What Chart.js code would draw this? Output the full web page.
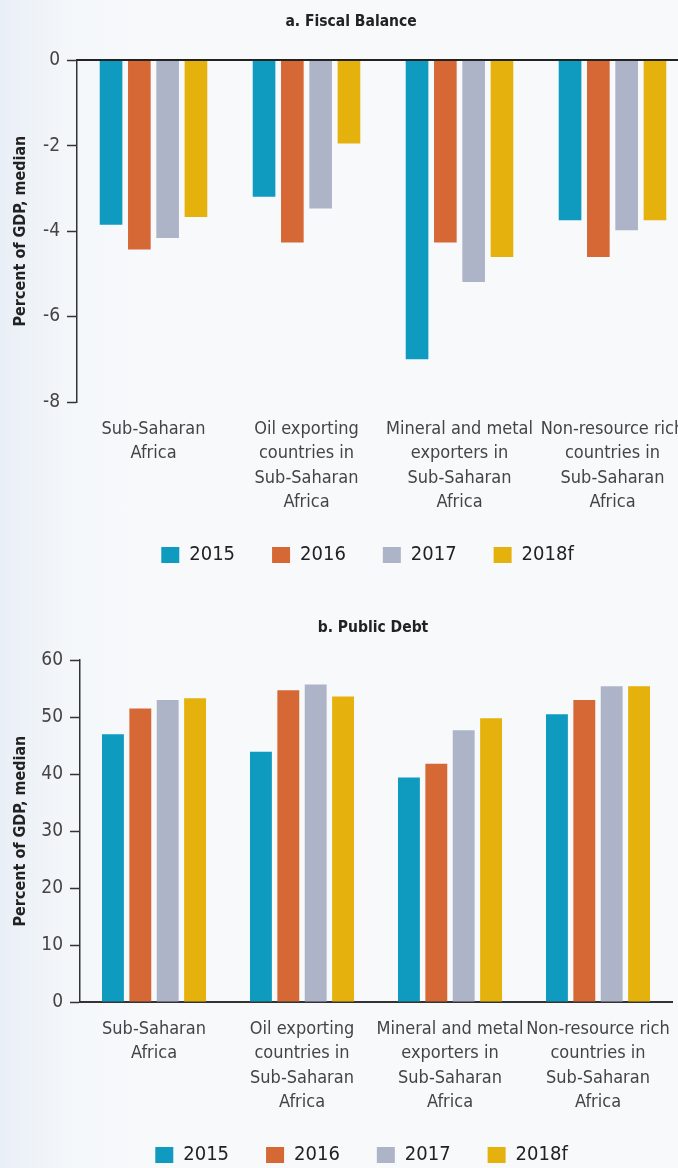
<!DOCTYPE html>
<html>
<head>
<meta charset="utf-8">
<script src="https://cdn.jsdelivr.net/npm/chart.js@4.4.1/dist/chart.umd.min.js"></script>
<style>
  html, body { margin: 0; padding: 0; }
  body {
    width: 678px; height: 1168px; overflow: hidden; position: relative;
    background: linear-gradient(to right, #e9eff6 0px, #f4f7fa 70px, #f7f9fb 140px, #f7f9fb 100%);
  }
  canvas { position: absolute; left: 0; }
  #fiscal { top: 0; }
  #debt { top: 600px; }
</style>
</head>
<body>
<canvas id="fiscal" width="744" height="590"></canvas>
<canvas id="debt" width="732" height="590"></canvas>
<script>
const categories = [
  ['Sub-Saharan', 'Africa'],
  ['Oil exporting', 'countries in', 'Sub-Saharan', 'Africa'],
  ['Mineral and metal', 'exporters in', 'Sub-Saharan', 'Africa'],
  ['Non-resource rich', 'countries in', 'Sub-Saharan', 'Africa']
];
const years = ['2015', '2016', '2017', '2018f'];
const colors = ['#0f9ac0', '#d66836', '#aeb4c7', '#e5b10c'];

// a. Fiscal Balance (percent of GDP, median)
const fiscal2015 = [-3.85, -3.2, -7.0, -3.75];
const fiscal2016 = [-4.43, -4.27, -4.27, -4.61];
const fiscal2017 = [-4.16, -3.47, -5.19, -3.98];
const fiscal2018f = [-3.67, -1.95, -4.61, -3.75];

// b. Public Debt (percent of GDP, median)
const debt2015 = [47.0, 43.9, 39.4, 50.5];
const debt2016 = [51.5, 54.7, 41.8, 53.0];
const debt2017 = [53.0, 55.7, 47.7, 55.4];
const debt2018f = [53.3, 53.6, 49.8, 55.4];

const FONT = "'DejaVu Sans Condensed', 'Liberation Sans Narrow', sans-serif";

Chart.defaults.font.family = FONT;
Chart.defaults.color = '#333';

// zero line drawn over the bars, like the original
const zeroLine = {
  id: 'zeroLine',
  afterDatasetsDraw(chart) {
    const {ctx, chartArea, scales} = chart;
    const y = scales.y.getPixelForValue(0);
    ctx.save();
    ctx.strokeStyle = '#222';
    ctx.lineWidth = 2;
    ctx.beginPath();
    ctx.moveTo(chartArea.left, y);
    ctx.lineTo(chartArea.right, y);
    ctx.stroke();
    ctx.restore();
  }
};

function makeDatasets(series) {
  return series.map((vals, i) => ({
    label: years[i],
    data: vals,
    backgroundColor: colors[i],
    borderWidth: 0,
    categoryPercentage: 0.74,
    barPercentage: 0.8
  }));
}

function legendLabels(chart) {
  // pad the text a bit so items sit further apart than the vertical padding
  return Chart.defaults.plugins.legend.labels.generateLabels(chart)
    .map(item => Object.assign(item, { text: item.text + '\u2002' }));
}

function makeOptions(o) {
  return {
    responsive: false,
    animation: false,
    devicePixelRatio: 1,
    layout: { padding: { left: 0, right: 0, top: 0, bottom: 15 } },
    plugins: {
      title: {
        display: true,
        text: o.title,
        color: '#222',
        font: { size: 15.5, weight: 'bold' },
        padding: { top: o.titleTop, bottom: o.titleBottom }
      },
      legend: {
        position: 'bottom',
        labels: {
          boxWidth: 18,
          boxHeight: 16,
          padding: 28,
          color: '#222',
          font: { size: 20 },
          generateLabels: legendLabels
        }
      },
      tooltip: { enabled: false }
    },
    scales: {
      x: {
        grid: { display: false, drawTicks: false },
        border: { display: o.xBorder, color: '#333', width: 2 },
        ticks: {
          color: '#444',
          padding: 15,
          font: { size: 18, lineHeight: 1.36 },
          maxRotation: 0,
          autoSkip: false
        },
        afterFit: s => { s.height = 115; }
      },
      y: {
        min: o.min,
        max: o.max,
        grid: {
          drawOnChartArea: false,
          tickLength: 10,
          tickColor: '#333',
          tickWidth: 1.5
        },
        border: { display: true, color: '#333', width: 1.5 },
        ticks: {
          stepSize: o.step,
          color: '#444',
          padding: 7,
          font: { size: 19 }
        },
        title: {
          display: true,
          text: 'Percent of GDP, median',
          color: '#222',
          font: { size: 16, weight: 'bold' },
          padding: { top: 11, bottom: 0 }
        },
        afterFit: s => { s.width = o.yWidth; }
      },
      yr: {
        position: 'right',
        grid: { display: false, drawTicks: false },
        border: { display: false },
        ticks: { display: false },
        afterFit: s => { s.width = o.rightGap; }
      }
    }
  };
}

new Chart(document.getElementById('fiscal'), {
  type: 'bar',
  data: {
    labels: categories,
    datasets: makeDatasets([fiscal2015, fiscal2016, fiscal2017, fiscal2018f])
  },
  options: makeOptions({
    title: 'a. Fiscal Balance\u2003\u2003\u2003', titleTop: 13, titleBottom: 28.5,
    min: -8, max: 0, step: 2, yWidth: 77, rightGap: 55, xBorder: false
  }),
  plugins: [zeroLine]
});

new Chart(document.getElementById('debt'), {
  type: 'bar',
  data: {
    labels: categories,
    datasets: makeDatasets([debt2015, debt2016, debt2017, debt2018f])
  },
  options: makeOptions({
    title: '\u2003b. Public Debt', titleTop: 19, titleBottom: 22.5,
    min: 0, max: 60, step: 10, yWidth: 80, rightGap: 60, xBorder: true
  })
});
</script>
</body>
</html>
